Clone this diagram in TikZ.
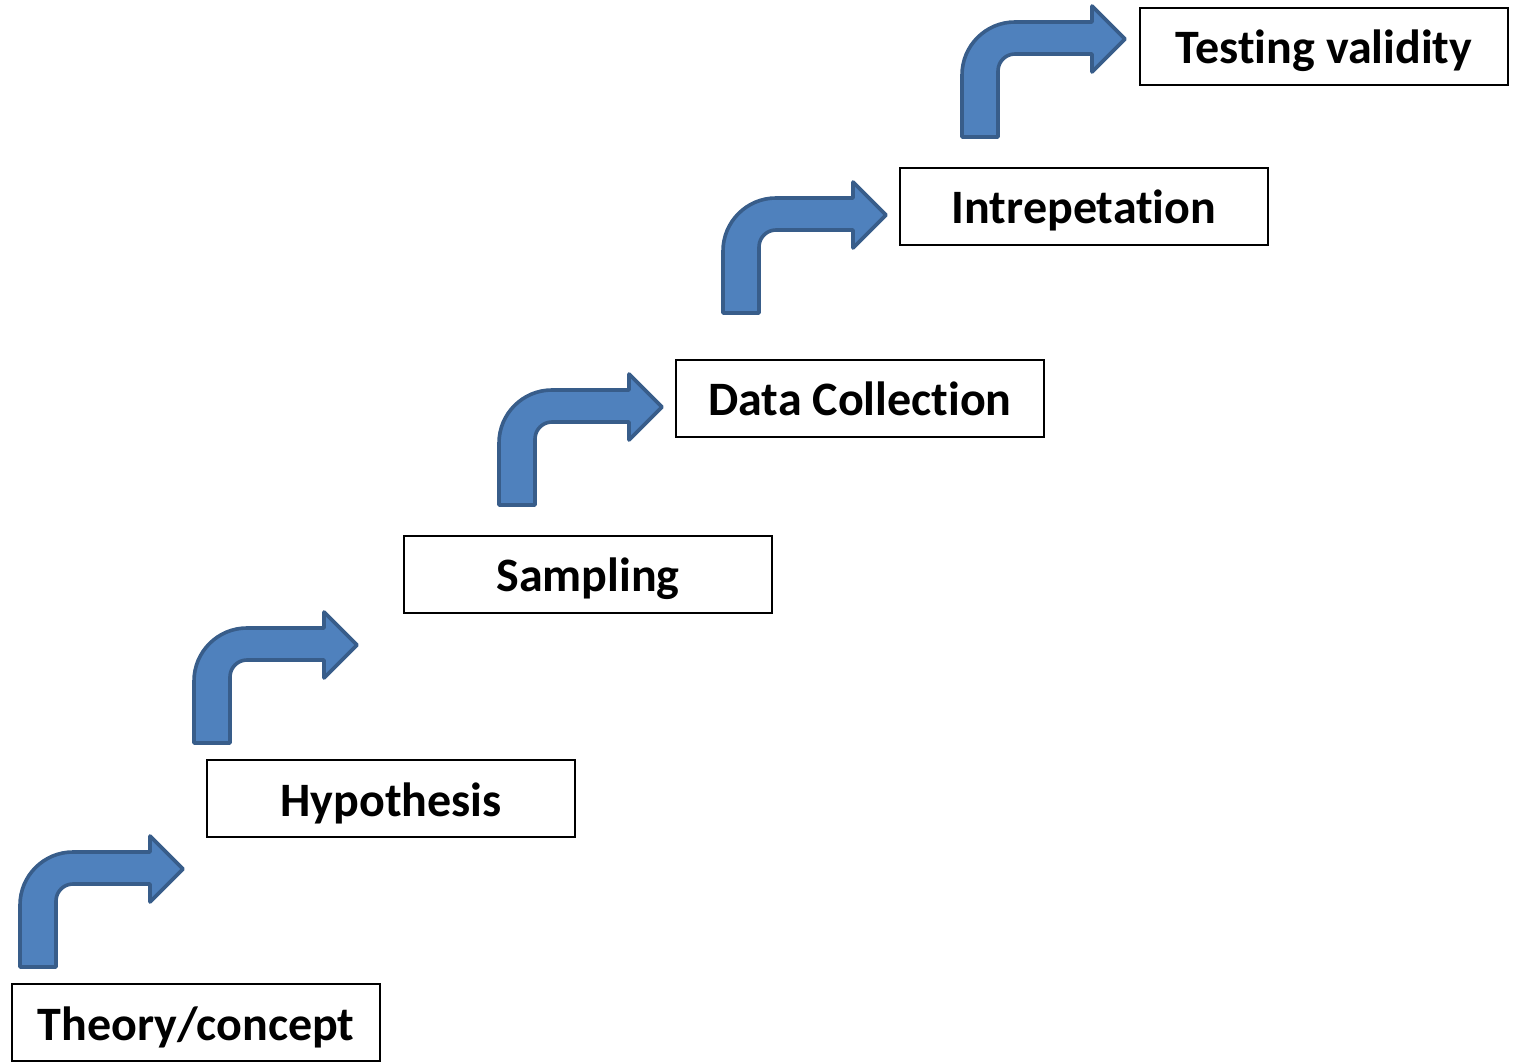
\documentclass[tikz,border=0pt]{standalone}
\usepackage{fontspec}
\setmainfont{Carlito}[RawFeature={-liga;-calt;-dlig}]
\definecolor{arrowfill}{HTML}{4F81BD}
\definecolor{arrowline}{HTML}{385D8A}
\tikzset{
  stepbox/.style={draw=black, line width=1.6pt, fill=white, minimum width=368pt, minimum height=77pt, inner sep=0pt, text height=37pt, text depth=2pt, font=\fontsize{48}{54}\selectfont\bfseries},
  bentarrow/.pic={
    \draw[fill=arrowfill, draw=arrowline, line width=3.6pt, line join=round]
      (0,0) -- (0,62) arc (180:90:53) -- (130,115) -- (130,131) -- (163,98)
      -- (130,65) -- (130,83) -- (53,83) arc (90:180:17) -- (36,0) -- cycle;
  }
}
\begin{document}
\begin{tikzpicture}[x=1pt,y=1pt]
\useasboundingbox (0,0) rectangle (1514,1061);
\node[stepbox] (theory) at (196,38.5) {Theory/concept};
\node[stepbox] (hyp) at (391,262.5) {Hypothesis};
\node[stepbox] (samp) at (588,486.5) {Sampling};
\node[stepbox] (data) at (860,662.5) {Data Collection};
\node[stepbox] (interp) at (1084,854.5) {Intrepetation};
\node[stepbox] (test) at (1324,1014.5) {Testing validity};
\pic at (20,94) {bentarrow};
\pic at (194,318) {bentarrow};
\pic at (499,556) {bentarrow};
\pic at (723,748) {bentarrow};
\pic at (962,924) {bentarrow};
\end{tikzpicture}
\end{document}
